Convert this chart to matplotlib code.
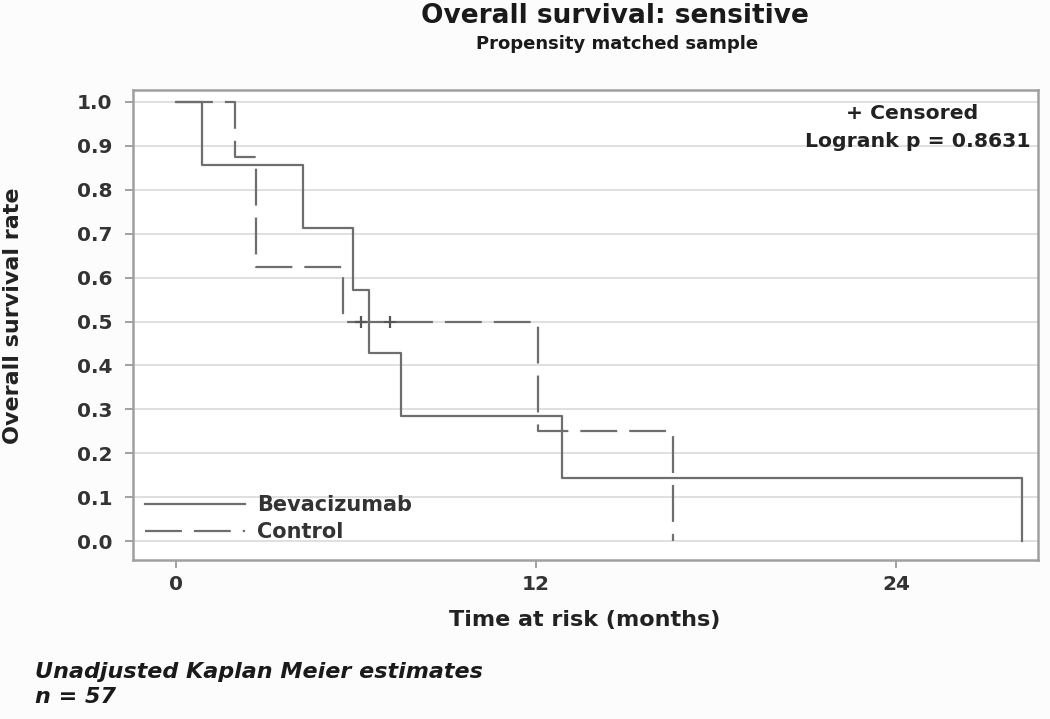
import matplotlib
matplotlib.use("Agg")
import matplotlib.pyplot as plt

# Data (Kaplan-Meier step curves)
bev_times = [0, 0.86, 4.23, 5.9, 6.43, 7.49, 12.86, 28.2]
bev_surv = [1.0, 0.857, 0.714, 0.571, 0.429, 0.286, 0.143, 0.0]
ctrl_times = [0, 1.97, 2.66, 5.57, 12.08, 16.55]
ctrl_surv = [1.0, 0.875, 0.625, 0.5, 0.25, 0.0]
ctrl_censor_times = [6.18, 7.15]
ctrl_censor_surv = [0.5, 0.5]

x_ticks = [0, 12, 24]
y_ticks = [0.0, 0.1, 0.2, 0.3, 0.4, 0.5, 0.6, 0.7, 0.8, 0.9, 1.0]
series_labels = ["Bevacizumab", "Control"]

plt.rcParams['font.family'] = ['DejaVu Sans']

fig = plt.figure(figsize=(10.5, 7.19), dpi=100)
fig.patch.set_facecolor('#fcfcfc')
ax = fig.add_axes([0.1267, 0.2211, 0.8619, 0.6537])
ax.set_facecolor('white')

line_col = '#6e6e6e'
ax.plot(bev_times, bev_surv, drawstyle='steps-post', color=line_col, lw=1.6,
        label=series_labels[0])
ax.plot(ctrl_times, ctrl_surv, drawstyle='steps-post', color=line_col, lw=1.6,
        dashes=(16.6, 5.4), label=series_labels[1])
ax.plot(ctrl_censor_times, ctrl_censor_surv, linestyle='none', marker='+',
        markersize=8, markeredgewidth=1.6, color='#555555')

ax.set_xlim(-1.43, 28.73)
ax.set_ylim(-0.043, 1.027)
ax.set_xticks(x_ticks)
ax.set_yticks(y_ticks)
ax.set_yticklabels([f"{v:.1f}" for v in y_ticks])
ax.grid(axis='y', color='#e0e0e0', lw=1.4)
ax.set_axisbelow(True)

for s in ax.spines.values():
    s.set_color('#a0a0a0')
    s.set_linewidth(1.8)

ax.tick_params(axis='both', colors='#999999', labelcolor='#333333',
               labelsize=14.5, length=6, width=1.3, direction='out')
for lab in ax.get_xticklabels() + ax.get_yticklabels():
    lab.set_fontweight('bold')
ax.tick_params(axis='x', pad=5)
ax.tick_params(axis='y', pad=9)

ax.set_xlabel("Time at risk (months)", fontsize=16, fontweight='bold',
              color='#222222', va='center')
ax.xaxis.set_label_coords(0.4994, -0.1277)
ax.set_ylabel("Overall survival rate", fontsize=16, fontweight='bold',
              color='#222222', va='center')
ax.yaxis.set_label_coords(-0.1326, 0.519)

leg = ax.legend(loc='lower left', bbox_to_anchor=(0.0133, 0.0385), frameon=False,
                handlelength=4.8, handletextpad=0.58, labelspacing=0.34,
                fontsize=15, borderaxespad=0.0, borderpad=0.0)
for t in leg.get_texts():
    t.set_fontweight('bold')
    t.set_color('#333333')

ax.text((912 - 133) / 905, (560 - 113) / 470, "+ Censored",
        transform=ax.transAxes, ha='center', va='center', fontsize=14.7,
        fontweight='bold', color='#222222')
ax.text((1030 - 133) / 905, (560 - 141) / 470, "Logrank p = 0.8631",
        transform=ax.transAxes, ha='right', va='center', fontsize=14.7,
        fontweight='bold', color='#222222')

fig.text(615 / 1050, 1 - 23 / 719, "Overall survival: sensitive", ha='center',
         va='baseline', fontsize=19, fontweight='bold', color='#1a1a1a')
fig.text(617 / 1050, 1 - 49 / 719, "Propensity matched sample", ha='center',
         va='baseline', fontsize=13, fontweight='bold', color='#1a1a1a')

fig.text(35 / 1050, 1 - 672 / 719, "Unadjusted Kaplan Meier estimates",
         ha='left', va='center', fontsize=16, fontweight='bold',
         style='italic', color='#1a1a1a')
fig.text(35 / 1050, 1 - 697 / 719, "n = 57", ha='left', va='center',
         fontsize=16, fontweight='bold', style='italic', color='#1a1a1a')

fig.savefig("out.png", dpi=100, facecolor=fig.get_facecolor())
